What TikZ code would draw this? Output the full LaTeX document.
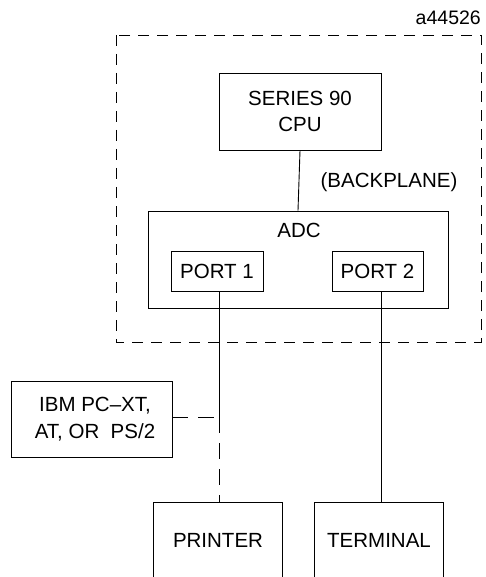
\documentclass[tikz,border=0pt]{standalone}
\usepackage{fontspec}
\setmainfont{Liberation Sans}
\begin{document}
\begin{tikzpicture}[x=1pt,y=-1pt,
  box/.style={draw,line width=0.9pt,inner sep=0pt,align=center,font=\fontsize{20.5}{26.5}\selectfont},
  lbl/.style={inner sep=0pt,font=\fontsize{20.5}{26.5}\selectfont},
  wire/.style={line width=0.9pt},
  dwire/.style={line width=0.9pt,dash pattern=on 16pt off 10pt},
  frame/.style={line width=0.9pt,dash pattern=on 11pt off 8pt}]
\useasboundingbox (0,0) rectangle (485,577);
\node[inner sep=0pt,anchor=east,font=\fontsize{19.5}{23}\selectfont] (id) at (481,18) {a44526};
\draw[frame] (116,35) rectangle (481,342);
\node[box,minimum width=162pt,minimum height=77pt] (cpu) at (300,111.5) {SERIES 90\\CPU};
\node[lbl] (bp) at (389,182) {(BACKPLANE)};
\node[box,minimum width=300pt,minimum height=97pt] (adc) at (298,259.5) {};
\node[lbl] (adct) at (299,230) {ADC};
\node[box,minimum width=92pt,minimum height=40pt] (p1) at (217,271) {PORT 1};
\node[box,minimum width=91pt,minimum height=40pt] (p2) at (377.5,271) {PORT 2};
\node[box,minimum width=161pt,minimum height=76pt] (ibm) at (91.5,419) {\hspace*{7pt}IBM PC–XT,\\\hspace*{7pt}AT, OR\ \ PS/2};
\node[lbl,minimum width=128pt,minimum height=74pt] (prn) at (218,540) {PRINTER};
\node[lbl,minimum width=128pt,minimum height=74pt] (term) at (379,540) {TERMINAL};
\draw[wire] (prn.south west) -- (prn.north west) -- (prn.north east) -- (prn.south east);
\draw[wire] (term.south west) -- (term.north west) -- (term.north east) -- (term.south east);
\coordinate (j) at ([xshift=2pt]p1.south |- ibm.east);
\draw[wire] (cpu.south) -- (adc.north);
\draw[wire] ([xshift=2pt]p1.south) -- ([yshift=2pt]j);
\draw[dwire] ([yshift=2pt]ibm.east) -- ([yshift=2pt]j);
\draw[dwire] ([yshift=2pt]j) -- (j |- prn.north);
\draw[wire] ([xshift=3.5pt]p2.south) -- ([xshift=3.5pt]p2.south |- term.north);
\end{tikzpicture}
\end{document}
